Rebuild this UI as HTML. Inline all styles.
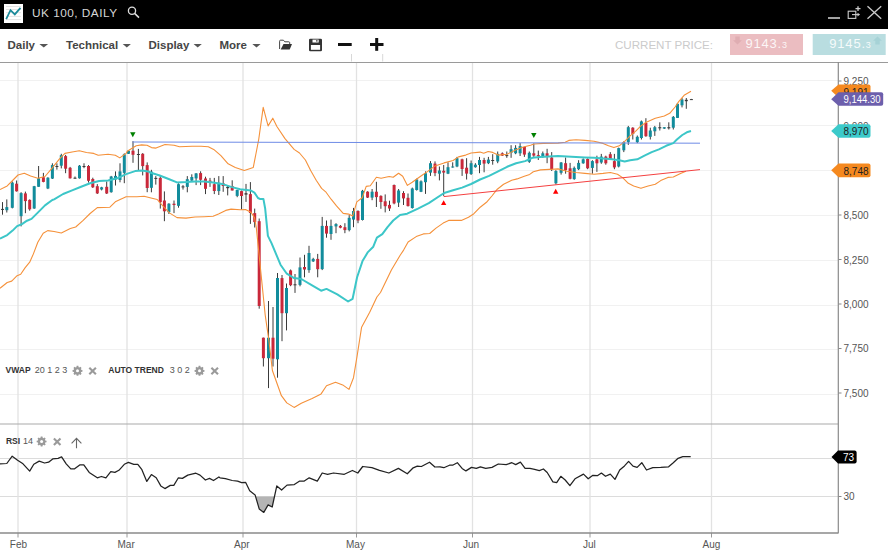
<!DOCTYPE html>
<html><head><meta charset="utf-8">
<style>
html,body{margin:0;padding:0;}
body{width:888px;height:555px;overflow:hidden;position:relative;background:#fff;font-family:"Liberation Sans",sans-serif;}
.abs{position:absolute;}
#hdr{left:0;top:0;width:888px;height:29px;background:#000;}
#tb{left:0;top:29px;width:888px;height:33px;background:#fff;}
.menu{position:absolute;top:37px;font-size:11.5px;font-weight:bold;color:#444;white-space:nowrap;}
.tri{position:absolute;width:0;height:0;border-left:4.5px solid transparent;border-right:4.5px solid transparent;border-top:4px solid #555;}
svg{position:absolute;left:0;top:0;}
</style></head><body>
<div id="hdr" class="abs"></div>
<svg width="888" height="555" viewBox="0 0 888 555">
<!-- logo -->
<rect x="4" y="4" width="19" height="19" fill="#fff"/>
<g stroke="#dcdcdc" stroke-width="0.8"><line x1="6" y1="6.5" x2="21" y2="6.5"/><line x1="6" y1="9.5" x2="21" y2="9.5"/><line x1="6" y1="12.7" x2="21" y2="12.7"/><line x1="6" y1="16.4" x2="21" y2="16.4"/><line x1="6" y1="19.6" x2="21" y2="19.6"/></g>
<polyline points="6.2,19.1 10.5,10.2 14.8,14.4 20.5,7.9" fill="none" stroke="#1b8a9a" stroke-width="1.8"/>
<text x="32" y="17" font-size="11.8" fill="#d6d6d6" textLength="85" lengthAdjust="spacing">UK 100, DAILY</text>
<circle cx="132" cy="10.8" r="3.6" fill="none" stroke="#ddd" stroke-width="1.3"/>
<line x1="134.6" y1="13.4" x2="139" y2="17.6" stroke="#ddd" stroke-width="1.5"/>
<line x1="828" y1="18" x2="840" y2="18" stroke="#ccc" stroke-width="1.6"/>
<rect x="848.2" y="11.2" width="7.6" height="7.2" fill="none" stroke="#ccc" stroke-width="1.1"/>
<line x1="852" y1="14.6" x2="858" y2="14.6" stroke="#ccc" stroke-width="1.1"/>
<path d="M857.5,12.8 l2.6,1.8 l-2.6,1.8 z" fill="#ccc"/>
<line x1="855.5" y1="8.6" x2="860.5" y2="8.6" stroke="#ccc" stroke-width="1.3"/>
<line x1="858" y1="6.2" x2="858" y2="11" stroke="#ccc" stroke-width="1.3"/>
<line x1="867.5" y1="6.2" x2="881.2" y2="18.8" stroke="#ccc" stroke-width="1.3"/>
<line x1="881.2" y1="6.2" x2="867.5" y2="18.8" stroke="#ccc" stroke-width="1.3"/>

<!-- toolbar -->
<text x="7.5" y="49" font-size="11.5" font-weight="bold" fill="#454545">Daily</text>
<path d="M39.4,43.9 h8.7 l-4.35,3.6 z" fill="#555"/>
<text x="66" y="49" font-size="11.5" font-weight="bold" fill="#454545">Technical</text>
<path d="M122.7,43.9 h8.2 l-4.1,3.6 z" fill="#555"/>
<text x="148.5" y="49" font-size="11.5" font-weight="bold" fill="#454545">Display</text>
<path d="M193.6,43.9 h8.2 l-4.1,3.6 z" fill="#555"/>
<text x="219.5" y="49" font-size="11.5" font-weight="bold" fill="#454545">More</text>
<path d="M252.3,43.9 h8.3 l-4.15,3.6 z" fill="#555"/>
<!-- folder -->
<path d="M279.6,49 V41.2 q0,-1 1,-1 h2.8 l1.4,1.6 h4 q0.9,0 0.9,0.9 v1.3" fill="none" stroke="#444" stroke-width="1"/>
<path d="M283.5,44.1 h8.5 l-2.3,5.4 h-9 z" fill="#333"/>
<!-- save -->
<rect x="309" y="38.7" width="13" height="12.6" rx="1.3" fill="#333"/>
<rect x="312.5" y="39.6" width="6.2" height="2.9" fill="#fff"/>
<rect x="316.2" y="40.1" width="1.3" height="1.5" fill="#333"/>
<rect x="310.9" y="45" width="9.2" height="4.8" fill="#fff"/>
<!-- minus plus -->
<rect x="338" y="43" width="13.7" height="3" fill="#111"/>
<rect x="370" y="43" width="13.5" height="3" fill="#111"/>
<rect x="375.2" y="38" width="3" height="12.8" fill="#111"/>
<line x1="351.5" y1="54" x2="351.5" y2="61.5" stroke="#d8d8d8" stroke-width="1"/>
<line x1="382.7" y1="54" x2="382.7" y2="61.5" stroke="#d8d8d8" stroke-width="1"/>

<text x="615" y="48.8" font-size="11.6" fill="#cbcbcb" textLength="98" lengthAdjust="spacing">CURRENT PRICE:</text>
<rect x="730" y="34" width="73" height="21" fill="#ebbdc1"/>
<path d="M735.3,36.5 h4.4 v3.8 h2.2 l-4.4,4.2 l-4.4,-4.2 h2.2 z" fill="#dfadb2"/>
<text x="745.5" y="48" font-size="13" fill="#fff" fill-opacity="0.88" letter-spacing="0.8">9143.<tspan font-size="9">3</tspan></text>
<rect x="812.7" y="34" width="73" height="21" fill="#b9dde0"/>
<path d="M879.7,44.5 h-4.4 v-3.8 h-2.2 l4.4,-4.2 l4.4,4.2 h-2.2 z" fill="#a6d2d6"/>
<text x="829.3" y="48" font-size="13" fill="#fff" fill-opacity="0.88" letter-spacing="0.8">9145.<tspan font-size="9">3</tspan></text>

<!-- chart frame -->
<line x1="0" y1="80.5" x2="838" y2="80.5" stroke="#f1f1f1" stroke-width="1"/>
<line x1="0" y1="125.5" x2="838" y2="125.5" stroke="#f1f1f1" stroke-width="1"/>
<line x1="0" y1="170.5" x2="838" y2="170.5" stroke="#f1f1f1" stroke-width="1"/>
<line x1="0" y1="215.5" x2="838" y2="215.5" stroke="#f1f1f1" stroke-width="1"/>
<line x1="0" y1="260.5" x2="838" y2="260.5" stroke="#f1f1f1" stroke-width="1"/>
<line x1="0" y1="305.5" x2="838" y2="305.5" stroke="#f1f1f1" stroke-width="1"/>
<line x1="0" y1="349.5" x2="838" y2="349.5" stroke="#f1f1f1" stroke-width="1"/>
<line x1="0" y1="394.5" x2="838" y2="394.5" stroke="#f1f1f1" stroke-width="1"/>
<line x1="0" y1="458.5" x2="838" y2="458.5" stroke="#dcdcdc" stroke-width="1"/>
<line x1="0" y1="496.5" x2="838" y2="496.5" stroke="#dcdcdc" stroke-width="1"/>
<line x1="18" y1="62" x2="18" y2="533" stroke="#e2e2e2" stroke-width="1.3"/>
<line x1="18" y1="533" x2="18" y2="537.5" stroke="#9a9a9a" stroke-width="1"/>
<line x1="127" y1="62" x2="127" y2="533" stroke="#e2e2e2" stroke-width="1.3"/>
<line x1="127" y1="533" x2="127" y2="537.5" stroke="#9a9a9a" stroke-width="1"/>
<line x1="243" y1="62" x2="243" y2="533" stroke="#e2e2e2" stroke-width="1.3"/>
<line x1="243" y1="533" x2="243" y2="537.5" stroke="#9a9a9a" stroke-width="1"/>
<line x1="356.5" y1="62" x2="356.5" y2="533" stroke="#e2e2e2" stroke-width="1.3"/>
<line x1="356.5" y1="533" x2="356.5" y2="537.5" stroke="#9a9a9a" stroke-width="1"/>
<line x1="472.5" y1="62" x2="472.5" y2="533" stroke="#e2e2e2" stroke-width="1.3"/>
<line x1="472.5" y1="533" x2="472.5" y2="537.5" stroke="#9a9a9a" stroke-width="1"/>
<line x1="590" y1="62" x2="590" y2="533" stroke="#e2e2e2" stroke-width="1.3"/>
<line x1="590" y1="533" x2="590" y2="537.5" stroke="#9a9a9a" stroke-width="1"/>
<line x1="711.5" y1="62" x2="711.5" y2="533" stroke="#e2e2e2" stroke-width="1.3"/>
<line x1="711.5" y1="533" x2="711.5" y2="537.5" stroke="#9a9a9a" stroke-width="1"/>
<line x1="2.5" y1="202.1" x2="2.5" y2="214.7" stroke="#3a3a3a" stroke-width="1"/>
<rect x="1" y="208.9" width="3" height="1" fill="#3a3a3a"/>
<line x1="6.8" y1="199.4" x2="6.8" y2="212.5" stroke="#3a3a3a" stroke-width="1"/>
<rect x="5.3" y="207.1" width="3" height="3.1" fill="#128c9c"/>
<line x1="12.3" y1="181.4" x2="12.3" y2="208.4" stroke="#3a3a3a" stroke-width="1"/>
<rect x="10.8" y="182.6" width="3" height="25.2" fill="#128c9c"/>
<line x1="16.6" y1="180.5" x2="16.6" y2="191.6" stroke="#3a3a3a" stroke-width="1"/>
<rect x="15.1" y="183.7" width="3" height="7.6" fill="#c9283a"/>
<line x1="21.1" y1="192.2" x2="21.1" y2="226.4" stroke="#3a3a3a" stroke-width="1"/>
<rect x="19.6" y="193.1" width="3" height="23.1" fill="#128c9c"/>
<line x1="25.4" y1="191.6" x2="25.4" y2="213.2" stroke="#3a3a3a" stroke-width="1"/>
<rect x="23.9" y="193.4" width="3" height="7.7" fill="#c9283a"/>
<line x1="29.7" y1="199.4" x2="29.7" y2="210.7" stroke="#3a3a3a" stroke-width="1"/>
<rect x="28.2" y="199.9" width="3" height="9.4" fill="#c9283a"/>
<line x1="34.2" y1="185.9" x2="34.2" y2="208.9" stroke="#3a3a3a" stroke-width="1"/>
<rect x="32.7" y="186.2" width="3" height="22.3" fill="#128c9c"/>
<line x1="38.6" y1="166" x2="38.6" y2="186.8" stroke="#3a3a3a" stroke-width="1"/>
<rect x="37.1" y="178.3" width="3" height="8.5" fill="#128c9c"/>
<line x1="43.4" y1="172.9" x2="43.4" y2="182.3" stroke="#3a3a3a" stroke-width="1"/>
<rect x="41.9" y="177.2" width="3" height="4.7" fill="#c9283a"/>
<line x1="47.9" y1="177.2" x2="47.9" y2="189.1" stroke="#3a3a3a" stroke-width="1"/>
<rect x="46.4" y="177.7" width="3" height="10.8" fill="#128c9c"/>
<line x1="52.4" y1="163.3" x2="52.4" y2="179" stroke="#3a3a3a" stroke-width="1"/>
<rect x="50.9" y="165.1" width="3" height="13.5" fill="#128c9c"/>
<line x1="56.9" y1="163.3" x2="56.9" y2="169.6" stroke="#3a3a3a" stroke-width="1"/>
<rect x="55.4" y="166" width="3" height="1" fill="#3a3a3a"/>
<line x1="61.3" y1="153.8" x2="61.3" y2="168.4" stroke="#3a3a3a" stroke-width="1"/>
<rect x="59.8" y="155.2" width="3" height="10.5" fill="#128c9c"/>
<line x1="65.6" y1="154.9" x2="65.6" y2="173.2" stroke="#3a3a3a" stroke-width="1"/>
<rect x="64.1" y="156.1" width="3" height="12.6" fill="#c9283a"/>
<line x1="70.1" y1="166.9" x2="70.1" y2="178.6" stroke="#3a3a3a" stroke-width="1"/>
<rect x="68.6" y="167.8" width="3" height="10.5" fill="#c9283a"/>
<line x1="75" y1="176.5" x2="75" y2="178.6" stroke="#3a3a3a" stroke-width="1"/>
<rect x="73.5" y="177.7" width="3" height="1" fill="#3a3a3a"/>
<line x1="79.5" y1="165.1" x2="79.5" y2="178.6" stroke="#3a3a3a" stroke-width="1"/>
<rect x="78" y="165.7" width="3" height="12.6" fill="#128c9c"/>
<line x1="84" y1="163.3" x2="84" y2="168.2" stroke="#3a3a3a" stroke-width="1"/>
<rect x="82.5" y="166" width="3" height="1" fill="#3a3a3a"/>
<line x1="88.5" y1="165.1" x2="88.5" y2="182.6" stroke="#3a3a3a" stroke-width="1"/>
<rect x="87" y="166" width="3" height="14.8" fill="#c9283a"/>
<line x1="92.8" y1="177.7" x2="92.8" y2="188" stroke="#3a3a3a" stroke-width="1"/>
<rect x="91.3" y="179" width="3" height="8.3" fill="#c9283a"/>
<line x1="97.3" y1="184.1" x2="97.3" y2="194" stroke="#3a3a3a" stroke-width="1"/>
<rect x="95.8" y="186.2" width="3" height="7.2" fill="#c9283a"/>
<line x1="101.6" y1="186.8" x2="101.6" y2="190.4" stroke="#3a3a3a" stroke-width="1"/>
<rect x="100.1" y="187.3" width="3" height="2.2" fill="#128c9c"/>
<line x1="106.7" y1="181.4" x2="106.7" y2="194" stroke="#3a3a3a" stroke-width="1"/>
<rect x="105.2" y="186.8" width="3" height="6.7" fill="#c9283a"/>
<line x1="111.2" y1="175.9" x2="111.2" y2="192.7" stroke="#3a3a3a" stroke-width="1"/>
<rect x="109.7" y="176.5" width="3" height="15.7" fill="#128c9c"/>
<line x1="115.5" y1="171.4" x2="115.5" y2="185.5" stroke="#3a3a3a" stroke-width="1"/>
<rect x="114" y="175.9" width="3" height="3.6" fill="#128c9c"/>
<line x1="120" y1="163.3" x2="120" y2="182.3" stroke="#3a3a3a" stroke-width="1"/>
<rect x="118.5" y="171.4" width="3" height="8.6" fill="#128c9c"/>
<line x1="124.3" y1="153.4" x2="124.3" y2="183.2" stroke="#3a3a3a" stroke-width="1"/>
<rect x="122.8" y="154.3" width="3" height="18.6" fill="#128c9c"/>
<line x1="128.5" y1="150.2" x2="128.5" y2="154" stroke="#3a3a3a" stroke-width="1"/>
<rect x="127" y="150.7" width="3" height="3.1" fill="#128c9c"/>
<line x1="133" y1="141.2" x2="133" y2="162.8" stroke="#3a3a3a" stroke-width="1"/>
<rect x="131.5" y="150.7" width="3" height="4.1" fill="#c9283a"/>
<line x1="138.4" y1="148.9" x2="138.4" y2="170" stroke="#3a3a3a" stroke-width="1"/>
<rect x="136.9" y="154" width="3" height="1" fill="#3a3a3a"/>
<line x1="142.7" y1="153.1" x2="142.7" y2="175.4" stroke="#3a3a3a" stroke-width="1"/>
<rect x="141.2" y="153.8" width="3" height="12.3" fill="#c9283a"/>
<line x1="147.2" y1="162.4" x2="147.2" y2="192.2" stroke="#3a3a3a" stroke-width="1"/>
<rect x="145.7" y="165.1" width="3" height="22.9" fill="#c9283a"/>
<line x1="151.4" y1="169.8" x2="151.4" y2="192.3" stroke="#3a3a3a" stroke-width="1"/>
<rect x="149.9" y="171.6" width="3" height="16.2" fill="#128c9c"/>
<line x1="155.8" y1="176.1" x2="155.8" y2="184.6" stroke="#3a3a3a" stroke-width="1"/>
<rect x="154.3" y="177.9" width="3" height="1" fill="#3a3a3a"/>
<line x1="160.3" y1="176.1" x2="160.3" y2="208.6" stroke="#3a3a3a" stroke-width="1"/>
<rect x="158.8" y="177.9" width="3" height="24.3" fill="#c9283a"/>
<line x1="164.4" y1="191.4" x2="164.4" y2="221.2" stroke="#3a3a3a" stroke-width="1"/>
<rect x="162.9" y="200.5" width="3" height="10.8" fill="#c9283a"/>
<line x1="168.9" y1="203.2" x2="168.9" y2="214" stroke="#3a3a3a" stroke-width="1"/>
<rect x="167.4" y="203.7" width="3" height="8.5" fill="#128c9c"/>
<line x1="174" y1="200.5" x2="174" y2="213.1" stroke="#3a3a3a" stroke-width="1"/>
<rect x="172.5" y="203.7" width="3" height="1.3" fill="#c9283a"/>
<line x1="178.5" y1="183.3" x2="178.5" y2="207.7" stroke="#3a3a3a" stroke-width="1"/>
<rect x="177" y="184.2" width="3" height="21.6" fill="#128c9c"/>
<line x1="183" y1="185.1" x2="183" y2="189.6" stroke="#3a3a3a" stroke-width="1"/>
<rect x="181.5" y="186.4" width="3" height="1" fill="#3a3a3a"/>
<line x1="187.3" y1="176.1" x2="187.3" y2="192.3" stroke="#3a3a3a" stroke-width="1"/>
<rect x="185.8" y="179.2" width="3" height="7.7" fill="#128c9c"/>
<line x1="191.8" y1="174.3" x2="191.8" y2="181.5" stroke="#3a3a3a" stroke-width="1"/>
<rect x="190.3" y="177" width="3" height="3.6" fill="#128c9c"/>
<line x1="196.1" y1="173.1" x2="196.1" y2="185.1" stroke="#3a3a3a" stroke-width="1"/>
<rect x="194.6" y="173.4" width="3" height="5" fill="#128c9c"/>
<line x1="200.6" y1="171.3" x2="200.6" y2="185.1" stroke="#3a3a3a" stroke-width="1"/>
<rect x="199.1" y="173.1" width="3" height="6.7" fill="#c9283a"/>
<line x1="205.5" y1="176.7" x2="205.5" y2="194.1" stroke="#3a3a3a" stroke-width="1"/>
<rect x="204" y="178.5" width="3" height="10.3" fill="#c9283a"/>
<line x1="210" y1="177.9" x2="210" y2="186.9" stroke="#3a3a3a" stroke-width="1"/>
<rect x="208.5" y="180.6" width="3" height="2.2" fill="#c9283a"/>
<line x1="214.3" y1="177.9" x2="214.3" y2="194.1" stroke="#3a3a3a" stroke-width="1"/>
<rect x="212.8" y="184.2" width="3" height="6.8" fill="#c9283a"/>
<line x1="218.8" y1="176.1" x2="218.8" y2="195" stroke="#3a3a3a" stroke-width="1"/>
<rect x="217.3" y="182.8" width="3" height="8.3" fill="#128c9c"/>
<line x1="223.2" y1="176.1" x2="223.2" y2="191.8" stroke="#3a3a3a" stroke-width="1"/>
<rect x="221.7" y="183.3" width="3" height="2.7" fill="#c9283a"/>
<line x1="227.7" y1="185.1" x2="227.7" y2="195.4" stroke="#3a3a3a" stroke-width="1"/>
<rect x="226.2" y="186.9" width="3" height="1.3" fill="#3a3a3a"/>
<line x1="232.2" y1="180.3" x2="232.2" y2="190.5" stroke="#3a3a3a" stroke-width="1"/>
<rect x="230.7" y="186" width="3" height="4.5" fill="#c9283a"/>
<line x1="237.2" y1="189.6" x2="237.2" y2="197.2" stroke="#3a3a3a" stroke-width="1"/>
<rect x="235.7" y="190" width="3" height="5.9" fill="#128c9c"/>
<line x1="241.5" y1="190.5" x2="241.5" y2="209.5" stroke="#3a3a3a" stroke-width="1"/>
<rect x="240" y="191.1" width="3" height="4.9" fill="#c9283a"/>
<line x1="246" y1="183.9" x2="246" y2="201.9" stroke="#3a3a3a" stroke-width="1"/>
<rect x="244.5" y="193.2" width="3" height="1.4" fill="#3a3a3a"/>
<line x1="250.4" y1="182.1" x2="250.4" y2="223.9" stroke="#3a3a3a" stroke-width="1"/>
<rect x="248.9" y="194.1" width="3" height="18.9" fill="#c9283a"/>
<line x1="254.7" y1="208.6" x2="254.7" y2="227.5" stroke="#3a3a3a" stroke-width="1"/>
<rect x="253.2" y="213.1" width="3" height="9" fill="#c9283a"/>
<line x1="259.2" y1="218.5" x2="259.2" y2="308.7" stroke="#3a3a3a" stroke-width="1"/>
<rect x="257.7" y="221.2" width="3" height="84.8" fill="#c9283a"/>
<line x1="263.4" y1="337.6" x2="263.4" y2="366.5" stroke="#3a3a3a" stroke-width="1"/>
<rect x="261.9" y="337.7" width="3" height="20.5" fill="#c9283a"/>
<line x1="268.5" y1="301" x2="268.5" y2="388.1" stroke="#3a3a3a" stroke-width="1"/>
<rect x="267" y="337.7" width="3" height="20.5" fill="#128c9c"/>
<line x1="273" y1="307" x2="273" y2="366.5" stroke="#3a3a3a" stroke-width="1"/>
<rect x="271.5" y="337.7" width="3" height="21" fill="#c9283a"/>
<line x1="277.5" y1="273" x2="277.5" y2="377.7" stroke="#3a3a3a" stroke-width="1"/>
<rect x="276" y="278" width="3" height="81.3" fill="#128c9c"/>
<line x1="282" y1="275" x2="282" y2="341.2" stroke="#3a3a3a" stroke-width="1"/>
<rect x="280.5" y="278.1" width="3" height="35.1" fill="#c9283a"/>
<line x1="286.5" y1="283.5" x2="286.5" y2="330.4" stroke="#3a3a3a" stroke-width="1"/>
<rect x="285" y="288" width="3" height="25.2" fill="#128c9c"/>
<line x1="290.6" y1="269.5" x2="290.6" y2="286.2" stroke="#3a3a3a" stroke-width="1"/>
<rect x="289.1" y="270.4" width="3" height="14.8" fill="#c9283a"/>
<line x1="295" y1="274" x2="295" y2="292.9" stroke="#3a3a3a" stroke-width="1"/>
<rect x="293.5" y="284.3" width="3" height="1" fill="#3a3a3a"/>
<line x1="300" y1="257.5" x2="300" y2="286.3" stroke="#3a3a3a" stroke-width="1"/>
<rect x="298.5" y="267.4" width="3" height="17.5" fill="#128c9c"/>
<line x1="304.5" y1="254.8" x2="304.5" y2="277.3" stroke="#3a3a3a" stroke-width="1"/>
<rect x="303" y="267" width="3" height="2.5" fill="#c9283a"/>
<line x1="309" y1="245.8" x2="309" y2="272.8" stroke="#3a3a3a" stroke-width="1"/>
<rect x="307.5" y="253" width="3" height="17.1" fill="#128c9c"/>
<line x1="313.2" y1="257.8" x2="313.2" y2="262" stroke="#3a3a3a" stroke-width="1"/>
<rect x="311.7" y="258.9" width="3" height="2.5" fill="#128c9c"/>
<line x1="317.7" y1="253.9" x2="317.7" y2="277.3" stroke="#3a3a3a" stroke-width="1"/>
<rect x="316.2" y="258.9" width="3" height="10.3" fill="#c9283a"/>
<line x1="322.2" y1="216.9" x2="322.2" y2="270.1" stroke="#3a3a3a" stroke-width="1"/>
<rect x="320.7" y="225.9" width="3" height="43.2" fill="#128c9c"/>
<line x1="326.5" y1="220.5" x2="326.5" y2="237.7" stroke="#3a3a3a" stroke-width="1"/>
<rect x="325" y="225.9" width="3" height="7.7" fill="#c9283a"/>
<line x1="331" y1="219.6" x2="331" y2="239.8" stroke="#3a3a3a" stroke-width="1"/>
<rect x="329.5" y="225.9" width="3" height="8.1" fill="#128c9c"/>
<line x1="336" y1="223.2" x2="336" y2="233.2" stroke="#3a3a3a" stroke-width="1"/>
<rect x="334.5" y="224.1" width="3" height="2.3" fill="#128c9c"/>
<line x1="340.4" y1="225" x2="340.4" y2="228.3" stroke="#3a3a3a" stroke-width="1"/>
<rect x="338.9" y="225.9" width="3" height="1.8" fill="#c9283a"/>
<line x1="344.9" y1="223.2" x2="344.9" y2="233.2" stroke="#3a3a3a" stroke-width="1"/>
<rect x="343.4" y="227.2" width="3" height="2.9" fill="#c9283a"/>
<line x1="349.2" y1="215.1" x2="349.2" y2="231.4" stroke="#3a3a3a" stroke-width="1"/>
<rect x="347.7" y="217.8" width="3" height="12.3" fill="#128c9c"/>
<line x1="353.5" y1="207.9" x2="353.5" y2="227.2" stroke="#3a3a3a" stroke-width="1"/>
<rect x="352" y="211" width="3" height="8.6" fill="#128c9c"/>
<line x1="358" y1="210.3" x2="358" y2="223.2" stroke="#3a3a3a" stroke-width="1"/>
<rect x="356.5" y="211" width="3" height="9.5" fill="#c9283a"/>
<line x1="362.5" y1="189.9" x2="362.5" y2="220.5" stroke="#3a3a3a" stroke-width="1"/>
<rect x="361" y="190.8" width="3" height="29.2" fill="#128c9c"/>
<line x1="367.6" y1="191.2" x2="367.6" y2="198" stroke="#3a3a3a" stroke-width="1"/>
<rect x="366.1" y="191.7" width="3" height="5.9" fill="#c9283a"/>
<line x1="372.1" y1="189" x2="372.1" y2="200.2" stroke="#3a3a3a" stroke-width="1"/>
<rect x="370.6" y="191.7" width="3" height="5.9" fill="#128c9c"/>
<line x1="376.4" y1="181.8" x2="376.4" y2="207" stroke="#3a3a3a" stroke-width="1"/>
<rect x="374.9" y="191.7" width="3" height="5.4" fill="#c9283a"/>
<line x1="380.9" y1="195.3" x2="380.9" y2="208.8" stroke="#3a3a3a" stroke-width="1"/>
<rect x="379.4" y="195.9" width="3" height="6.1" fill="#c9283a"/>
<line x1="385.2" y1="194.4" x2="385.2" y2="212.4" stroke="#3a3a3a" stroke-width="1"/>
<rect x="383.7" y="201.3" width="3" height="4.9" fill="#c9283a"/>
<line x1="389.5" y1="200.7" x2="389.5" y2="211" stroke="#3a3a3a" stroke-width="1"/>
<rect x="388" y="204.9" width="3" height="3.6" fill="#c9283a"/>
<line x1="394.1" y1="184.5" x2="394.1" y2="204.3" stroke="#3a3a3a" stroke-width="1"/>
<rect x="392.6" y="185" width="3" height="18.4" fill="#c9283a"/>
<line x1="398.6" y1="189" x2="398.6" y2="207" stroke="#3a3a3a" stroke-width="1"/>
<rect x="397.1" y="190.5" width="3" height="12.1" fill="#128c9c"/>
<line x1="403.5" y1="191.2" x2="403.5" y2="205" stroke="#3a3a3a" stroke-width="1"/>
<rect x="402" y="193" width="3" height="5.4" fill="#c9283a"/>
<line x1="408" y1="193.5" x2="408" y2="206.5" stroke="#3a3a3a" stroke-width="1"/>
<rect x="406.5" y="197.8" width="3" height="8.3" fill="#c9283a"/>
<line x1="412.3" y1="187.6" x2="412.3" y2="208.6" stroke="#3a3a3a" stroke-width="1"/>
<rect x="410.8" y="188.5" width="3" height="19.5" fill="#128c9c"/>
<line x1="416.7" y1="178.6" x2="416.7" y2="190.6" stroke="#3a3a3a" stroke-width="1"/>
<rect x="415.2" y="179.5" width="3" height="10.5" fill="#128c9c"/>
<line x1="421" y1="180.4" x2="421" y2="192.1" stroke="#3a3a3a" stroke-width="1"/>
<rect x="419.5" y="181.3" width="3" height="10.5" fill="#128c9c"/>
<line x1="425.5" y1="171.4" x2="425.5" y2="193.9" stroke="#3a3a3a" stroke-width="1"/>
<rect x="424" y="173.2" width="3" height="9" fill="#128c9c"/>
<line x1="430.5" y1="161.1" x2="430.5" y2="175.9" stroke="#3a3a3a" stroke-width="1"/>
<rect x="429" y="163.2" width="3" height="9.4" fill="#128c9c"/>
<line x1="435" y1="161.4" x2="435" y2="176.2" stroke="#3a3a3a" stroke-width="1"/>
<rect x="433.5" y="163.6" width="3" height="9.5" fill="#c9283a"/>
<line x1="439.4" y1="166.5" x2="439.4" y2="180.4" stroke="#3a3a3a" stroke-width="1"/>
<rect x="437.9" y="170.5" width="3" height="3.2" fill="#128c9c"/>
<line x1="443.7" y1="165" x2="443.7" y2="195.9" stroke="#3a3a3a" stroke-width="1"/>
<rect x="442.2" y="170.8" width="3" height="1.8" fill="#c9283a"/>
<line x1="448" y1="162.3" x2="448" y2="174.1" stroke="#3a3a3a" stroke-width="1"/>
<rect x="446.5" y="167.2" width="3" height="6.5" fill="#128c9c"/>
<line x1="452.7" y1="162.3" x2="452.7" y2="167.7" stroke="#3a3a3a" stroke-width="1"/>
<rect x="451.2" y="166.5" width="3" height="1" fill="#128c9c"/>
<line x1="457" y1="156.9" x2="457" y2="167.2" stroke="#3a3a3a" stroke-width="1"/>
<rect x="455.5" y="158.2" width="3" height="8.3" fill="#128c9c"/>
<line x1="462.1" y1="158.7" x2="462.1" y2="175.9" stroke="#3a3a3a" stroke-width="1"/>
<rect x="460.6" y="159.3" width="3" height="9.7" fill="#c9283a"/>
<line x1="466.6" y1="158.2" x2="466.6" y2="179.5" stroke="#3a3a3a" stroke-width="1"/>
<rect x="465.1" y="167.7" width="3" height="5.9" fill="#c9283a"/>
<line x1="471.1" y1="160.5" x2="471.1" y2="175" stroke="#3a3a3a" stroke-width="1"/>
<rect x="469.6" y="163.2" width="3" height="10.8" fill="#128c9c"/>
<line x1="475.4" y1="163.2" x2="475.4" y2="167.7" stroke="#3a3a3a" stroke-width="1"/>
<rect x="473.9" y="164.7" width="3" height="2.5" fill="#128c9c"/>
<line x1="479.5" y1="156.9" x2="479.5" y2="173.2" stroke="#3a3a3a" stroke-width="1"/>
<rect x="478" y="160" width="3" height="5" fill="#128c9c"/>
<line x1="484.1" y1="157.8" x2="484.1" y2="172.3" stroke="#3a3a3a" stroke-width="1"/>
<rect x="482.6" y="160" width="3" height="3.6" fill="#c9283a"/>
<line x1="488.4" y1="156.9" x2="488.4" y2="164.1" stroke="#3a3a3a" stroke-width="1"/>
<rect x="486.9" y="159.6" width="3" height="3.6" fill="#128c9c"/>
<line x1="492.7" y1="154.2" x2="492.7" y2="164.7" stroke="#3a3a3a" stroke-width="1"/>
<rect x="491.2" y="160" width="3" height="1" fill="#3a3a3a"/>
<line x1="497.7" y1="151.5" x2="497.7" y2="163.2" stroke="#3a3a3a" stroke-width="1"/>
<rect x="496.2" y="153.9" width="3" height="7.6" fill="#128c9c"/>
<line x1="502.3" y1="152.4" x2="502.3" y2="156" stroke="#3a3a3a" stroke-width="1"/>
<rect x="500.8" y="153.3" width="3" height="2.3" fill="#c9283a"/>
<line x1="506.8" y1="151.5" x2="506.8" y2="157.8" stroke="#3a3a3a" stroke-width="1"/>
<rect x="505.3" y="155.1" width="3" height="1" fill="#3a3a3a"/>
<line x1="511.1" y1="145.2" x2="511.1" y2="157.8" stroke="#3a3a3a" stroke-width="1"/>
<rect x="509.6" y="149.2" width="3" height="3.6" fill="#128c9c"/>
<line x1="515.6" y1="145.2" x2="515.6" y2="154.2" stroke="#3a3a3a" stroke-width="1"/>
<rect x="514.1" y="147.9" width="3" height="5.4" fill="#128c9c"/>
<line x1="520.1" y1="143.1" x2="520.1" y2="156" stroke="#3a3a3a" stroke-width="1"/>
<rect x="518.6" y="146.1" width="3" height="7.2" fill="#128c9c"/>
<line x1="524.4" y1="146.7" x2="524.4" y2="156.9" stroke="#3a3a3a" stroke-width="1"/>
<rect x="522.9" y="147" width="3" height="7.6" fill="#c9283a"/>
<line x1="529.3" y1="151.5" x2="529.3" y2="162.9" stroke="#3a3a3a" stroke-width="1"/>
<rect x="527.8" y="152.8" width="3" height="9" fill="#128c9c"/>
<line x1="533.8" y1="143.4" x2="533.8" y2="156.9" stroke="#3a3a3a" stroke-width="1"/>
<rect x="532.3" y="153.3" width="3" height="2.3" fill="#c9283a"/>
<line x1="538.3" y1="150.6" x2="538.3" y2="160" stroke="#3a3a3a" stroke-width="1"/>
<rect x="536.8" y="155.1" width="3" height="1" fill="#c9283a"/>
<line x1="542.8" y1="151.5" x2="542.8" y2="157.8" stroke="#3a3a3a" stroke-width="1"/>
<rect x="541.3" y="153.3" width="3" height="2.7" fill="#128c9c"/>
<line x1="547.1" y1="148.8" x2="547.1" y2="163.2" stroke="#3a3a3a" stroke-width="1"/>
<rect x="545.6" y="153.3" width="3" height="2.7" fill="#c9283a"/>
<line x1="551.7" y1="152.1" x2="551.7" y2="171" stroke="#3a3a3a" stroke-width="1"/>
<rect x="550.2" y="157.5" width="3" height="11.7" fill="#c9283a"/>
<line x1="555.9" y1="170.1" x2="555.9" y2="184.5" stroke="#3a3a3a" stroke-width="1"/>
<rect x="554.4" y="171" width="3" height="12.3" fill="#128c9c"/>
<line x1="561.1" y1="162" x2="561.1" y2="174.6" stroke="#3a3a3a" stroke-width="1"/>
<rect x="559.6" y="162.5" width="3" height="10.3" fill="#128c9c"/>
<line x1="565.6" y1="157.5" x2="565.6" y2="173.7" stroke="#3a3a3a" stroke-width="1"/>
<rect x="564.1" y="163.2" width="3" height="6.8" fill="#c9283a"/>
<line x1="570.1" y1="162.9" x2="570.1" y2="179.3" stroke="#3a3a3a" stroke-width="1"/>
<rect x="568.6" y="168.3" width="3" height="10.5" fill="#c9283a"/>
<line x1="574.2" y1="166.5" x2="574.2" y2="179.8" stroke="#3a3a3a" stroke-width="1"/>
<rect x="572.7" y="167.9" width="3" height="11.2" fill="#128c9c"/>
<line x1="578.6" y1="160.2" x2="578.6" y2="170.1" stroke="#3a3a3a" stroke-width="1"/>
<rect x="577.1" y="162.9" width="3" height="6.3" fill="#128c9c"/>
<line x1="583.2" y1="158.4" x2="583.2" y2="163.8" stroke="#3a3a3a" stroke-width="1"/>
<rect x="581.7" y="159.3" width="3" height="4" fill="#128c9c"/>
<line x1="587.6" y1="158.4" x2="587.6" y2="169.2" stroke="#3a3a3a" stroke-width="1"/>
<rect x="586.1" y="158.9" width="3" height="9.4" fill="#c9283a"/>
<line x1="592.4" y1="160.2" x2="592.4" y2="173.7" stroke="#3a3a3a" stroke-width="1"/>
<rect x="590.9" y="161.1" width="3" height="6.8" fill="#128c9c"/>
<line x1="596.9" y1="155.7" x2="596.9" y2="171.9" stroke="#3a3a3a" stroke-width="1"/>
<rect x="595.4" y="159.3" width="3" height="4" fill="#c9283a"/>
<line x1="601.3" y1="153.9" x2="601.3" y2="163.8" stroke="#3a3a3a" stroke-width="1"/>
<rect x="599.8" y="156.6" width="3" height="5.9" fill="#128c9c"/>
<line x1="605.8" y1="155.7" x2="605.8" y2="164.7" stroke="#3a3a3a" stroke-width="1"/>
<rect x="604.3" y="156.6" width="3" height="6.7" fill="#c9283a"/>
<line x1="610.3" y1="152.1" x2="610.3" y2="159.3" stroke="#3a3a3a" stroke-width="1"/>
<rect x="608.8" y="154.2" width="3" height="4.7" fill="#c9283a"/>
<line x1="614.4" y1="153.9" x2="614.4" y2="169.2" stroke="#3a3a3a" stroke-width="1"/>
<rect x="612.9" y="161.1" width="3" height="6.3" fill="#c9283a"/>
<line x1="618.7" y1="147.6" x2="618.7" y2="167.4" stroke="#3a3a3a" stroke-width="1"/>
<rect x="617.2" y="148.1" width="3" height="18.4" fill="#128c9c"/>
<line x1="623.8" y1="141.3" x2="623.8" y2="152.1" stroke="#3a3a3a" stroke-width="1"/>
<rect x="622.3" y="142.2" width="3" height="8.1" fill="#128c9c"/>
<line x1="628.3" y1="125.9" x2="628.3" y2="144.9" stroke="#3a3a3a" stroke-width="1"/>
<rect x="626.8" y="127.2" width="3" height="15" fill="#128c9c"/>
<line x1="632.8" y1="127.2" x2="632.8" y2="139.5" stroke="#3a3a3a" stroke-width="1"/>
<rect x="631.3" y="127.7" width="3" height="6.3" fill="#c9283a"/>
<line x1="637.3" y1="135.5" x2="637.3" y2="143.1" stroke="#3a3a3a" stroke-width="1"/>
<rect x="635.8" y="136.8" width="3" height="5.4" fill="#128c9c"/>
<line x1="641.4" y1="120.5" x2="641.4" y2="139.5" stroke="#3a3a3a" stroke-width="1"/>
<rect x="639.9" y="121.4" width="3" height="16.6" fill="#128c9c"/>
<line x1="645.9" y1="118.2" x2="645.9" y2="136.8" stroke="#3a3a3a" stroke-width="1"/>
<rect x="644.4" y="122.9" width="3" height="13.3" fill="#c9283a"/>
<line x1="650.3" y1="127.7" x2="650.3" y2="139.5" stroke="#3a3a3a" stroke-width="1"/>
<rect x="648.8" y="130.5" width="3" height="6.3" fill="#128c9c"/>
<line x1="654.8" y1="125.9" x2="654.8" y2="135.9" stroke="#3a3a3a" stroke-width="1"/>
<rect x="653.3" y="127.2" width="3" height="4.1" fill="#128c9c"/>
<line x1="659.8" y1="122.3" x2="659.8" y2="130.5" stroke="#3a3a3a" stroke-width="1"/>
<rect x="658.3" y="127.2" width="3" height="1.1" fill="#3a3a3a"/>
<line x1="664.3" y1="127.2" x2="664.3" y2="129" stroke="#3a3a3a" stroke-width="1"/>
<rect x="662.8" y="127.2" width="3" height="1.4" fill="#128c9c"/>
<line x1="668.8" y1="122.3" x2="668.8" y2="129.5" stroke="#3a3a3a" stroke-width="1"/>
<rect x="667.3" y="127.2" width="3" height="1.1" fill="#3a3a3a"/>
<line x1="673.3" y1="116" x2="673.3" y2="129.5" stroke="#3a3a3a" stroke-width="1"/>
<rect x="671.8" y="116.9" width="3" height="10.8" fill="#128c9c"/>
<line x1="677.5" y1="103.4" x2="677.5" y2="117.8" stroke="#3a3a3a" stroke-width="1"/>
<rect x="676" y="103.8" width="3" height="14.1" fill="#128c9c"/>
<line x1="682" y1="98" x2="682" y2="107.4" stroke="#3a3a3a" stroke-width="1"/>
<rect x="680.5" y="99.5" width="3" height="5.8" fill="#128c9c"/>
<line x1="686.3" y1="98" x2="686.3" y2="108.8" stroke="#3a3a3a" stroke-width="1"/>
<rect x="684.8" y="99.8" width="3" height="1.4" fill="#3a3a3a"/>
<line x1="691.4" y1="98.9" x2="691.4" y2="99.5" stroke="#3a3a3a" stroke-width="1"/>
<rect x="689.9" y="99.1" width="3" height="1" fill="#3a3a3a"/>
<polyline points="0,189.5 7.2,185.9 12.6,180.5 18,175 24.3,173.2 30.6,175.9 37.8,178.3 45,176.5 52.3,167.8 59.5,158.8 64.9,153.4 72.1,152 79.3,150.7 86.5,152.5 93.7,153.4 98.2,155.2 108.1,154.3 115.3,155.2 119.8,157.9 126.1,153.4 127.2,151.2 136.2,145.8 141.6,144.9 147,145.2 151.5,147.6 156,148.1 160.5,146.3 165,144.5 174.1,145.2 179.5,146.7 192.1,146.3 201.1,146.3 208.3,146.7 213.7,149.4 220.9,155.7 228.1,163.8 235.3,167.4 244.3,170.5 253.3,167.4 258.7,139.5 263.2,107.4 268.1,125.9 272.8,118.2 276.9,126.5 285,138.6 294.1,149.4 299.5,153 305.4,160 310.8,170.8 316.2,180.3 321.6,188.4 325.7,191.8 331.1,199.2 336.5,205.9 343.2,213.4 348.6,214.1 352.7,216.1 356.8,201.9 362.2,197.8 366.2,186.4 370.3,185.7 376.4,177.3 381.1,178.2 389.2,176.5 393.2,177.3 398.6,173.2 402.7,176.2 407.4,185.4 412.2,182.3 422.4,175 427.8,171.4 435,165.9 444.1,162.9 453.1,160.5 458.5,156.9 465.7,155.1 471.1,153 480.1,152.1 483.7,153.3 488.2,151.5 492.7,152.4 498.1,155.1 507.1,154.2 516.1,149.7 523.3,147 530.5,145.2 534.1,144 543.2,143.4 558,143.1 565.2,142.2 568.8,140.4 576,139.8 585,140.4 594.1,141.3 603.1,143.4 608.5,145.8 613.9,147.6 619.3,145.8 624.7,141.3 630.1,135.9 635.5,131.4 640.9,125.9 646.3,122.3 655.3,118.2 664.3,116 669.7,113.3 675.1,107 678.7,101.6 684.1,95.3 691,91.2" fill="none" stroke="#f5913a" stroke-width="1.1" stroke-linejoin="round"/>
<polyline points="0,288.3 7.2,282.5 11.7,281.1 17.1,275.7 20.7,274.2 25.2,267.6 29.7,262.2 33.3,254.1 37.8,242.3 43.2,233.3 47.7,230.6 54.1,231.5 61.3,233 70.3,228.5 75.7,227 82.9,220.7 90.1,213.5 97.3,207.6 109.9,207.2 115.3,201.8 126.1,196.7 136.9,196.7 144.1,196.3 150,197.7 157.2,199.5 164.4,207.7 169.8,213.1 177,217.6 186,218.1 195,217 204.1,216.7 213.1,216.3 218.5,214 225.7,210.4 231.1,209.1 240.1,209.8 245.5,209.5 250.9,212.2 254.5,217.6 256.3,227.5 265.2,315 268.8,339.8 272.4,370.5 281.4,395.7 286.8,402.9 294.1,407.4 301.3,403.2 312.1,398.4 321.1,393.9 326.5,385.8 335.5,382.2 342.7,384.9 349,389.4 353.5,377.7 357.1,356 361.6,327.2 369.7,312.3 376.9,297 380.5,292.5 391.4,270 400,255.5 403.6,250.1 408.1,242 416.2,236.6 423.4,233.9 429.7,233.5 436,228.1 443.2,223.1 448.6,220.4 461.3,220.4 468.5,217.3 473.9,213.7 480.2,207.2 486.5,202.3 491.9,196 497.3,189.2 503.6,184.3 511.7,180.2 517.1,178.9 524.3,176.2 529.7,174.4 533.3,171.7 540.5,169.9 549.5,169.4 549,169.5 558,168.9 567,171.3 576,172.5 585,173.4 594.1,174.3 603.1,173.4 610.3,172.5 617.5,174.3 622.9,177.9 628.3,183.3 633.7,186 640.9,188.2 648.1,186 655.3,184.2 660.7,180.6 667.9,177.4 673.3,177 680.5,173.4 685.9,171.3" fill="none" stroke="#f5913a" stroke-width="1.1" stroke-linejoin="round"/>
<line x1="132.5" y1="142" x2="700" y2="143.2" stroke="#6e8be6" stroke-width="1"/>
<line x1="443.7" y1="196.6" x2="700" y2="169.6" stroke="#f44040" stroke-width="1"/>
<polyline points="0,238.7 7.2,235.1 12.6,230.6 17.1,226.1 21.6,224.3 27,220.7 31.5,218.9 37.8,212.6 45,205.4 52.3,200 54.1,199.4 63.1,194 72.1,190.4 81.1,186.8 90.1,183.2 99.1,181 108.1,180.5 117.1,178.3 126.1,174.1 135.1,171.1 142.3,170.5 149.5,171.8 150,172.5 159,175.2 168,178.8 177,182.4 186,182.1 195,181.5 204.1,181.5 213.1,182.4 222.1,183.9 231.1,186.9 240.1,189.3 250.9,190.5 254.4,192.6 258,198 259.8,198.9 263.4,198.9 265.2,208.8 267.9,235.9 271.5,243.1 276,253.9 280.5,264.7 286.8,273.7 294.1,278.1 301.3,279 312.1,285.3 321.1,290.7 326.5,288.9 337.3,294.3 348.1,301.5 352.6,298.8 357.1,277.2 362.5,261.1 367.9,252.1 373.3,246.7 376.9,237.7 382.3,234.1 387.7,226.8 393.2,220.5 400,215 407.2,213.7 418,208.6 428.8,203.2 444.1,193 453.1,190.3 462.1,187.6 471.1,184 480.1,179.5 489.1,175.9 498.1,171.4 507.1,166.8 516.1,163.2 525.1,161.1 532.3,157.8 540,157.1 549,156.6 558,156 567,156.6 576,157.1 585,157.5 594.1,157.8 603.1,158.4 612.1,159.3 619.3,160.2 624.7,161.4 630.1,160.2 637.3,159.3 644.5,155.7 651.7,152.1 658.9,149.4 666.1,145.8 673.3,143.1 676.9,139.5 682.3,135 686.8,132.3 691,131" fill="none" stroke="#3cc6c8" stroke-width="2" stroke-linejoin="round"/>
<path d="M130.1,132.2 h5.4 l-2.7,5.1 z" fill="#008000"/>
<path d="M531.1,132.9 h5.4 l-2.7,5.1 z" fill="#008000"/>
<path d="M441,204.9 h5.3 l-2.65,-4.6 z" fill="#ff0000"/>
<clipPath id="c30"><rect x="0" y="496.5" width="838" height="36"/></clipPath><polygon points="0,463.8 6.8,463.5 12.2,456.2 17.6,460.3 23,463.8 29.7,471.1 33.8,464.3 39.2,461.1 44.6,463 48.6,462.2 52.7,458.9 58.1,458.4 61.6,456.8 66.2,463.8 70.8,468.9 74.3,468.9 79.7,464.9 83.8,464.9 89.2,472.4 97.3,477.8 101.4,476.5 105.9,477.8 110.8,471.6 114.9,472.4 118.9,470.3 124.3,464.3 128.4,462.4 133.8,464.3 137.8,464.3 141.9,469.7 146.8,481.4 151.4,474.6 156.2,477.8 160.8,485.9 164.9,488.6 170.3,485.4 173.8,485.4 178.4,477.8 182.4,478.4 187.8,475.1 195.9,473.2 200,475.1 205.4,480 209.5,478.4 213.5,480.5 218.9,477 220,477.8 225.4,478.6 232.2,480.5 237.6,481.1 241.6,482.7 245.7,482.4 249.7,490.8 255.1,494.9 259.2,508.9 263.8,512.4 268.1,504.9 272.2,507 276.8,485.9 281.6,490 287,485.1 294.3,484.6 299.7,481.1 304.3,481.1 309.2,477.8 317.3,481.1 322.2,473 327.6,474.3 333.5,473 344.3,474.3 352.4,470.5 357.8,473 362.7,466.5 371.9,467.6 379.5,470.3 388.9,473 398.4,468.4 407.3,473.8 413.2,467.8 417.3,466.2 421.4,466.5 429.5,462.2 434.9,467 440,466.8 443.8,467.7 449.5,465.2 452.6,465.2 457.3,462.7 462.1,468.4 465.9,470.9 471.5,467.4 476.3,468.4 480.4,466.8 485.7,468.4 492,467.4 498.3,464 506.2,464.6 511.9,462.7 515.7,464.6 520.4,462.1 525.1,468.4 529.9,468.4 534.6,469.3 539.3,470.6 543.4,469 547.2,472.5 552.9,481.9 556.7,482.6 560.8,476.3 565.2,480 569.9,485.7 575,478.8 583.5,474.1 588.2,478.8 592.9,475.3 597.7,475.6 601.4,473.1 605.5,476.3 610.3,474.1 615,479.4 619.7,470 624.5,465.9 628.6,461.4 633,466.2 637.1,467.4 641.8,462.7 646.5,470 652.8,467.7 660.7,467.4 668.6,466.8 673.3,462.7 678.1,458.3 682.8,456.7 690.7,456.7 690.7,490 0,490" fill="#b4b4b4" clip-path="url(#c30)"/>
<path d="M553,193.8 h5.4 l-2.7,-5.1 z" fill="#ff0000"/>
<polyline points="0,463.8 6.8,463.5 12.2,456.2 17.6,460.3 23,463.8 29.7,471.1 33.8,464.3 39.2,461.1 44.6,463 48.6,462.2 52.7,458.9 58.1,458.4 61.6,456.8 66.2,463.8 70.8,468.9 74.3,468.9 79.7,464.9 83.8,464.9 89.2,472.4 97.3,477.8 101.4,476.5 105.9,477.8 110.8,471.6 114.9,472.4 118.9,470.3 124.3,464.3 128.4,462.4 133.8,464.3 137.8,464.3 141.9,469.7 146.8,481.4 151.4,474.6 156.2,477.8 160.8,485.9 164.9,488.6 170.3,485.4 173.8,485.4 178.4,477.8 182.4,478.4 187.8,475.1 195.9,473.2 200,475.1 205.4,480 209.5,478.4 213.5,480.5 218.9,477 220,477.8 225.4,478.6 232.2,480.5 237.6,481.1 241.6,482.7 245.7,482.4 249.7,490.8 255.1,494.9 259.2,508.9 263.8,512.4 268.1,504.9 272.2,507 276.8,485.9 281.6,490 287,485.1 294.3,484.6 299.7,481.1 304.3,481.1 309.2,477.8 317.3,481.1 322.2,473 327.6,474.3 333.5,473 344.3,474.3 352.4,470.5 357.8,473 362.7,466.5 371.9,467.6 379.5,470.3 388.9,473 398.4,468.4 407.3,473.8 413.2,467.8 417.3,466.2 421.4,466.5 429.5,462.2 434.9,467 440,466.8 443.8,467.7 449.5,465.2 452.6,465.2 457.3,462.7 462.1,468.4 465.9,470.9 471.5,467.4 476.3,468.4 480.4,466.8 485.7,468.4 492,467.4 498.3,464 506.2,464.6 511.9,462.7 515.7,464.6 520.4,462.1 525.1,468.4 529.9,468.4 534.6,469.3 539.3,470.6 543.4,469 547.2,472.5 552.9,481.9 556.7,482.6 560.8,476.3 565.2,480 569.9,485.7 575,478.8 583.5,474.1 588.2,478.8 592.9,475.3 597.7,475.6 601.4,473.1 605.5,476.3 610.3,474.1 615,479.4 619.7,470 624.5,465.9 628.6,461.4 633,466.2 637.1,467.4 641.8,462.7 646.5,470 652.8,467.7 660.7,467.4 668.6,466.8 673.3,462.7 678.1,458.3 682.8,456.7 690.7,456.7" fill="none" stroke="#222" stroke-width="1.25" stroke-linejoin="round"/>
<line x1="0" y1="62.5" x2="888" y2="62.5" stroke="#9a9a9a" stroke-width="1.2"/>
<line x1="0" y1="424" x2="838" y2="424" stroke="#aaa" stroke-width="1.2"/>
<line x1="0" y1="533" x2="838" y2="533" stroke="#8a8a8a" stroke-width="1.3"/>
<line x1="838.3" y1="62" x2="838.3" y2="533.5" stroke="#8a8a8a" stroke-width="1.2"/>

<!-- axis labels -->
<g font-size="10" fill="#555">
<line x1="838.5" y1="81" x2="841.5" y2="81" stroke="#888"/>
<text x="843.5" y="84.5">9,250</text>
<text x="843.5" y="129.5">9,000</text>
<line x1="838.5" y1="215" x2="841.5" y2="215" stroke="#888"/><text x="843.5" y="218.5">8,500</text>
<line x1="838.5" y1="259.5" x2="841.5" y2="259.5" stroke="#888"/><text x="843.5" y="264">8,250</text>
<line x1="838.5" y1="304" x2="841.5" y2="304" stroke="#888"/><text x="843.5" y="307.5">8,000</text>
<line x1="838.5" y1="348.5" x2="841.5" y2="348.5" stroke="#888"/><text x="843.5" y="352">7,750</text>
<line x1="838.5" y1="393" x2="841.5" y2="393" stroke="#888"/><text x="843.5" y="396.5">7,500</text>
<line x1="838.5" y1="496.5" x2="841.5" y2="496.5" stroke="#888"/><text x="843.5" y="500">30</text>
<text x="9.8" y="547.5">Feb</text>
<text x="117.5" y="547.5">Mar</text>
<text x="234" y="547.5">Apr</text>
<text x="346" y="547.5">May</text>
<text x="463" y="547.5">Jun</text>
<text x="583" y="547.5">Jul</text>
<text x="702.5" y="547.5">Aug</text>
</g>
<!-- price tags -->
<path d="M831.2,90.8 l7.3,-6.3 h30 a2,2 0 0 1 2,2 v9 a2,2 0 0 1 -2,2 h-30 z" fill="#f5891f"/>
<text x="843.5" y="96" font-size="10" fill="#222">9,191</text>
<path d="M831.2,99.2 l7.3,-7 h42.7 a2,2 0 0 1 2,2 v9.6 a2,2 0 0 1 -2,2 h-42.7 z" fill="#6c5fac"/>
<text x="843.5" y="103" font-size="10" fill="#fff" textLength="37" lengthAdjust="spacingAndGlyphs">9,144.30</text>
<path d="M831.2,131 l7.3,-6.7 h30 a2,2 0 0 1 2,2 v9.4 a2,2 0 0 1 -2,2 h-30 z" fill="#3ccaca"/>
<text x="843.5" y="135" font-size="10" fill="#222">8,970</text>
<path d="M831.2,170.3 l7.3,-6.9 h30 a2,2 0 0 1 2,2 v9.8 a2,2 0 0 1 -2,2 h-30 z" fill="#f5891f"/>
<text x="843.5" y="174.5" font-size="10" fill="#222">8,748</text>
<path d="M831.5,457 l6.5,-6.5 h16.6 a2,2 0 0 1 2,2 v9 a2,2 0 0 1 -2,2 h-16.6 z" fill="#000"/>
<text x="843" y="461" font-size="10" fill="#fff">73</text>

<!-- indicator legends -->
<text x="5.6" y="373" font-size="8.5" font-weight="bold" fill="#333">VWAP</text>
<text x="34.7" y="373" font-size="9" fill="#555">20 1 2 3</text>
<text x="108.3" y="373" font-size="8.5" font-weight="bold" fill="#333">AUTO TREND</text>
<text x="169.7" y="373" font-size="9" fill="#555">3 0 2</text>
<text x="5.9" y="444" font-size="8.5" font-weight="bold" fill="#333">RSI</text>
<text x="23" y="444" font-size="9" fill="#555">14</text>
<path d="M81.13,369.68 L82.43,369.95 L82.43,371.65 L81.13,371.92 L80.86,372.57 L81.58,373.69 L80.39,374.88 L79.27,374.16 L78.62,374.43 L78.35,375.73 L76.65,375.73 L76.38,374.43 L75.73,374.16 L74.61,374.88 L73.42,373.69 L74.14,372.57 L73.87,371.92 L72.57,371.65 L72.57,369.95 L73.87,369.68 L74.14,369.03 L73.42,367.91 L74.61,366.72 L75.73,367.44 L76.38,367.17 L76.65,365.87 L78.35,365.87 L78.62,367.17 L79.27,367.44 L80.39,366.72 L81.58,367.91 L80.86,369.03 Z" fill="#9a9a9a"/><circle cx="77.5" cy="370.8" r="1.5" fill="#fff"/><circle cx="77.5" cy="370.8" r="3.8" fill="none" stroke="#9a9a9a" stroke-width="0"/><path d="M89.3,367.7 L95.89999999999999,374.3 M95.89999999999999,367.7 L89.3,374.3" stroke="#9a9a9a" stroke-width="2.1" fill="none"/><path d="M203.13,369.68 L204.43,369.95 L204.43,371.65 L203.13,371.92 L202.86,372.57 L203.58,373.69 L202.39,374.88 L201.27,374.16 L200.62,374.43 L200.35,375.73 L198.65,375.73 L198.38,374.43 L197.73,374.16 L196.61,374.88 L195.42,373.69 L196.14,372.57 L195.87,371.92 L194.57,371.65 L194.57,369.95 L195.87,369.68 L196.14,369.03 L195.42,367.91 L196.61,366.72 L197.73,367.44 L198.38,367.17 L198.65,365.87 L200.35,365.87 L200.62,367.17 L201.27,367.44 L202.39,366.72 L203.58,367.91 L202.86,369.03 Z" fill="#9a9a9a"/><circle cx="199.5" cy="370.8" r="1.5" fill="#fff"/><circle cx="199.5" cy="370.8" r="3.8" fill="none" stroke="#9a9a9a" stroke-width="0"/><path d="M211.39999999999998,367.7 L218.0,374.3 M218.0,367.7 L211.39999999999998,374.3" stroke="#9a9a9a" stroke-width="2.1" fill="none"/><path d="M45.23,440.38 L46.53,440.65 L46.53,442.35 L45.23,442.62 L44.96,443.27 L45.68,444.39 L44.49,445.58 L43.37,444.86 L42.72,445.13 L42.45,446.43 L40.75,446.43 L40.48,445.13 L39.83,444.86 L38.71,445.58 L37.52,444.39 L38.24,443.27 L37.97,442.62 L36.67,442.35 L36.67,440.65 L37.97,440.38 L38.24,439.73 L37.52,438.61 L38.71,437.42 L39.83,438.14 L40.48,437.87 L40.75,436.57 L42.45,436.57 L42.72,437.87 L43.37,438.14 L44.49,437.42 L45.68,438.61 L44.96,439.73 Z" fill="#9a9a9a"/><circle cx="41.6" cy="441.5" r="1.5" fill="#fff"/><circle cx="41.6" cy="441.5" r="3.8" fill="none" stroke="#9a9a9a" stroke-width="0"/><path d="M53.900000000000006,438.5 L60.5,445.1 M60.5,438.5 L53.900000000000006,445.1" stroke="#9a9a9a" stroke-width="2.1" fill="none"/><path d="M76.5,448.2 V438.6 M71.6,443.3 L76.5,438.4 L81.4,443.3" stroke="#666" stroke-width="1.1" fill="none"/>
</svg>
</body></html>
